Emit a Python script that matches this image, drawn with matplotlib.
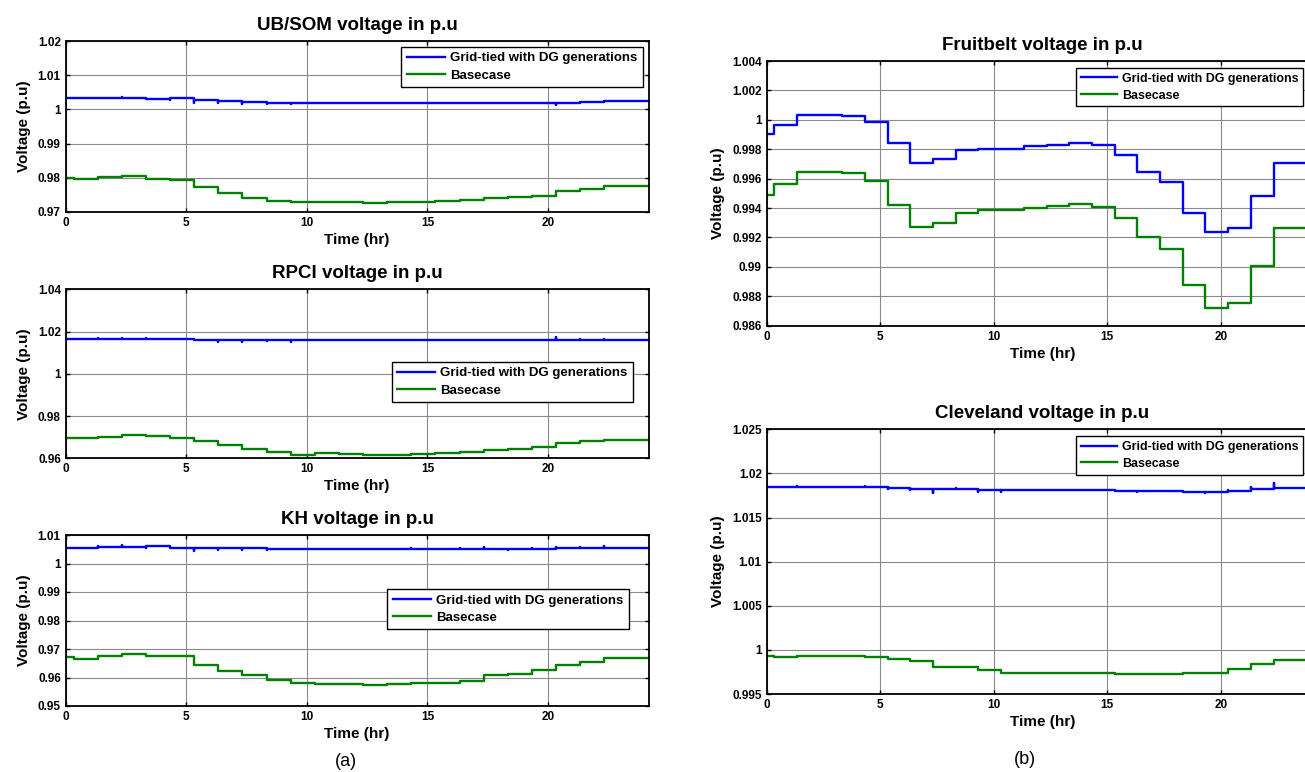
import numpy as np
import matplotlib
matplotlib.use("Agg")
import matplotlib.pyplot as plt
from matplotlib.ticker import FuncFormatter

plt.rcParams['font.family'] = ['Liberation Sans', 'DejaVu Sans']
plt.rcParams['font.weight'] = 'bold'

# step changes happen every hour, a third of an hour past the full hour
step_times = [0.33 + k for k in range(24)]

# one value per hourly segment (25 segments)
ubsom_dg = [1.00332, 1.00332, 1.00335, 1.00338, 1.0031, 1.0032, 1.00264, 1.00234, 1.00205, 1.00186,
            1.00186, 1.00186, 1.00186, 1.00186, 1.00186, 1.00186, 1.00186, 1.00186, 1.00186, 1.00186,
            1.00186, 1.00186, 1.00215, 1.00244, 1.00244]
ubsom_base = [0.9800, 0.9796, 0.9802, 0.9805, 0.9797, 0.9793, 0.97736, 0.9757, 0.9742, 0.97332,
              0.97283, 0.97283, 0.97283, 0.9725, 0.97283, 0.97283, 0.9731, 0.9736, 0.9741, 0.9744,
              0.9748, 0.9762, 0.9768, 0.9776, 0.9776]
ubsom_spikes = [0, 0.0001, 0.0002, -0.0004, -0.0003, -0.0012, -0.0008, -0.0008, -0.0006, -0.0004,
                0, 0, 0, 0.0001, 0, 0, 0.0001, 0.0001, 0.0001, 0.0001, -0.0005, 0.0002, 0.0003, 0]

rpci_dg = [1.01654, 1.01654, 1.01654, 1.01654, 1.01654, 1.0163, 1.0161, 1.0161, 1.0161, 1.0161,
           1.0159, 1.0159, 1.0159, 1.0159, 1.0159, 1.0159, 1.0159, 1.0159, 1.0159, 1.0159,
           1.0159, 1.0159, 1.0159, 1.0159, 1.0159]
rpci_base = [0.9696, 0.9696, 0.97024, 0.97087, 0.9704, 0.96976, 0.96835, 0.96646, 0.96457, 0.963,
             0.96173, 0.96236, 0.96205, 0.96142, 0.96142, 0.9619, 0.96236, 0.96283, 0.96378, 0.96457,
             0.9652, 0.9674, 0.96835, 0.96882, 0.96882]
rpci_spikes = [0, 0.0002, 0.0002, 0.0002, -0.0003, -0.0004, -0.0012, -0.0012, -0.0005, -0.001,
               0, 0, 0.0002, 0, 0, 0, 0.0003, 0.0003, 0.0003, 0, 0.0015, 0.0006, 0.0004, 0]

kh_dg = [1.00561, 1.00561, 1.00585, 1.00585, 1.00608, 1.0056, 1.00538, 1.00538, 1.0053, 1.00525,
         1.00515, 1.00515, 1.00515, 1.00515, 1.00515, 1.00515, 1.00515, 1.00515, 1.00515, 1.00515,
         1.00515, 1.00561, 1.00561, 1.00561, 1.00561]
kh_base = [0.96719, 0.9666, 0.96766, 0.96836, 0.96766, 0.96743, 0.9645, 0.9624, 0.96076, 0.959,
           0.95818, 0.95784, 0.95784, 0.95749, 0.95784, 0.95818, 0.95818, 0.95889, 0.96076, 0.96111,
           0.96252, 0.9645, 0.96544, 0.96684, 0.96684]
kh_spikes = [0, 0.0005, 0.0005, -0.0003, 0, -0.0012, -0.0008, -0.0008, -0.0006, -0.0003,
             0, 0, 0.0001, 0, 0.0002, 0, 0.0002, 0.0006, -0.0003, 0.0004, 0.0008, 0.0002, 0.0004, 0]

fruit_dg = [0.99905, 0.99968, 1.00036, 1.00036, 1.00027, 0.99982, 0.99841, 0.99705, 0.99732, 0.99795,
            0.99802, 0.99802, 0.99823, 0.99832, 0.99841, 0.9983, 0.99762, 0.99648, 0.9958, 0.99365,
            0.99236, 0.99265, 0.99482, 0.99709, 0.99709]
fruit_base = [0.99491, 0.99566, 0.99645, 0.99645, 0.99639, 0.99586, 0.9942, 0.99273, 0.99298, 0.99368,
              0.99384, 0.99384, 0.994, 0.99414, 0.99425, 0.99407, 0.9933, 0.99205, 0.99123, 0.98875,
              0.9872, 0.98752, 0.99009, 0.99266, 0.99266]
fruit_spikes = [0] * 24

clev_dg = [1.01849, 1.01849, 1.01849, 1.01849, 1.01849, 1.01849, 1.01838, 1.01823, 1.0182, 1.0182,
           1.01808, 1.01808, 1.01808, 1.01808, 1.01808, 1.01808, 1.01796, 1.01796, 1.01796, 1.01785,
           1.01785, 1.01796, 1.0182, 1.0183, 1.0183]
clev_base = [0.99932, 0.99917, 0.99932, 0.99932, 0.99932, 0.99917, 0.99898, 0.99879, 0.99811, 0.99811,
             0.99774, 0.9974, 0.9974, 0.9974, 0.9974, 0.9974, 0.99728, 0.99728, 0.99728, 0.9974,
             0.9974, 0.99785, 0.99838, 0.99891, 0.99891]
clev_spikes = [0, 0.0001, 0, 0, 0.0001, -0.0003, -0.0003, -0.0005, 0.0001, -0.0003,
               -0.0002, 0, 0, 0, 0, 0, -0.0001, 0.0001, -0.0001, -0.0001, 0.0003, 0.0005, 0.0007, 0]

xticks = [0, 5, 10, 15, 20]
ubsom_yticks = [0.97, 0.98, 0.99, 1.0, 1.01, 1.02]
rpci_yticks = [0.96, 0.98, 1.0, 1.02, 1.04]
kh_yticks = [0.95, 0.96, 0.97, 0.98, 0.99, 1.0, 1.01]
fruit_yticks = [0.986, 0.988, 0.99, 0.992, 0.994, 0.996, 0.998, 1.0, 1.002, 1.004]
clev_yticks = [0.995, 1.0, 1.005, 1.01, 1.015, 1.02, 1.025]

BLUE = '#0000ff'
GREEN = '#008000'
W, H = 1305.0, 772.0


def step_xy(values, t_end, spikes=None):
    xs, ys = [0.0], [values[0]]
    for k, tb in enumerate(step_times):
        sp = spikes[k] if spikes is not None else 0
        xs += [tb, tb, tb]
        ys += [values[k], values[k] + sp, values[k + 1]]
    xs.append(t_end)
    ys.append(values[-1])
    return xs, ys


def fmt(v, pos):
    return ('%.4f' % v).rstrip('0').rstrip('.')


def panel(fig, box, title, dg, base, spikes, yticks, t_end, leg_anchor, leg_loc, leg_fs=9.5):
    left, top, right, bottom = box
    ax = fig.add_axes([left / W, 1 - bottom / H, (right - left) / W, (bottom - top) / H])
    x, y = step_xy(dg, t_end, spikes)
    ax.plot(x, y, color=BLUE, lw=1.7, label='Grid-tied with DG generations')
    x, y = step_xy(base, t_end)
    ax.plot(x, y, color=GREEN, lw=1.7, label='Basecase')
    ax.set_xlim(0, t_end)
    ax.set_ylim(yticks[0], yticks[-1])
    ax.set_xticks(xticks)
    ax.set_yticks(yticks)
    ax.yaxis.set_major_formatter(FuncFormatter(fmt))
    ax.grid(True, color='#8a8a8a', lw=0.8)
    ax.tick_params(direction='in', length=3, width=1, top=True, right=True, labelsize=8.5)
    for s in ax.spines.values():
        s.set_linewidth(1.3)
    ax.set_title(title, fontsize=13.5, fontweight='bold', pad=8)
    ax.set_xlabel('Time (hr)', fontsize=11, fontweight='bold', labelpad=3)
    ax.set_ylabel('Voltage (p.u)', fontsize=11, fontweight='bold', labelpad=5)
    leg = ax.legend(loc=leg_loc, bbox_to_anchor=leg_anchor, fontsize=leg_fs, fancybox=False,
                    edgecolor='black', framealpha=1, handlelength=2.9, handletextpad=0.4,
                    labelspacing=0.4, borderpad=0.4, borderaxespad=0)
    leg.get_frame().set_linewidth(1.0)
    return ax


fig = plt.figure(figsize=(W / 100, H / 100), dpi=100)

panel(fig, (65.7, 41, 648.6, 212), 'UB/SOM voltage in p.u', ubsom_dg, ubsom_base, ubsom_spikes,
      ubsom_yticks, 24.17, (0.99, 0.965), 'upper right')
panel(fig, (65.7, 289.3, 648.6, 458.3), 'RPCI voltage in p.u', rpci_dg, rpci_base, rpci_spikes,
      rpci_yticks, 24.17, (0.973, 0.57), 'upper right')
panel(fig, (65.7, 535, 648.6, 706), 'KH voltage in p.u', kh_dg, kh_base, kh_spikes,
      kh_yticks, 24.17, (0.966, 0.684), 'upper right')
panel(fig, (766.7, 61, 1318.3, 325.7), 'Fruitbelt voltage in p.u', fruit_dg, fruit_base, fruit_spikes,
      fruit_yticks, 24.3, (0.561, 0.975), 'upper left', leg_fs=8.9)
panel(fig, (766.7, 429.3, 1318.3, 694), 'Cleveland voltage in p.u', clev_dg, clev_base, clev_spikes,
      clev_yticks, 24.3, (0.561, 0.975), 'upper left', leg_fs=8.9)

fig.text(346 / W, 1 - 762 / H, '(a)', ha='center', va='center', fontsize=13, fontweight='normal')
fig.text(1025 / W, 1 - 760 / H, '(b)', ha='center', va='center', fontsize=13, fontweight='normal')

fig.savefig('out.png', dpi=100)
